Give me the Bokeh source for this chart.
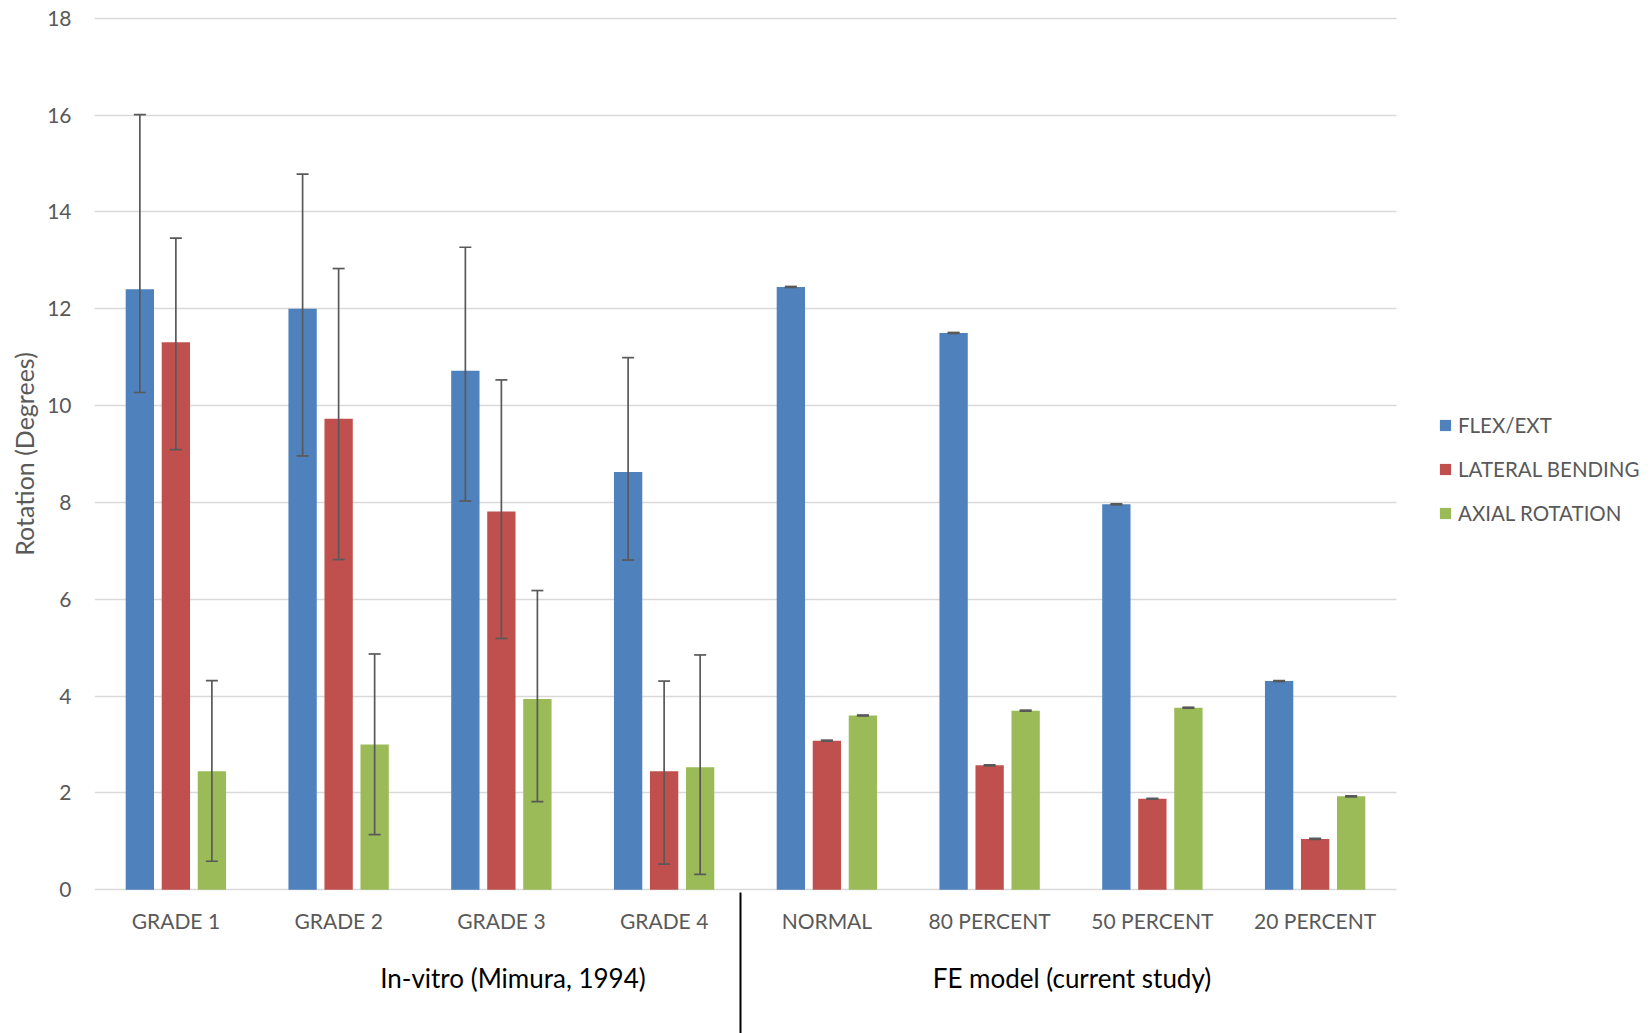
from bokeh.plotting import figure
from bokeh.models import (ColumnDataSource, FixedTicker, LinearAxis, Grid, Legend,
                          LegendItem, Whisker, TeeHead, Range1d)
from bokeh.embed import file_html
from bokeh.resources import INLINE

# ---- data -------------------------------------------------------------
categories = ["GRADE 1", "GRADE 2", "GRADE 3", "GRADE 4",
              "NORMAL", "80 PERCENT", "50 PERCENT", "20 PERCENT"]
groups = ["In-vitro (Mimura, 1994)", "FE model (current study)"]
group_label_pos = [2.071, 5.506]
group_split = 3.47

series = ["FLEX/EXT", "LATERAL BENDING", "AXIAL ROTATION"]

flex_ext = [12.40, 12.00, 10.72, 8.63, 12.45, 11.50, 7.96, 4.31]
flex_ext_low = [10.27, 8.96, 8.03, 6.81, 12.44, 11.49, 7.95, 4.30]
flex_ext_high = [16.01, 14.78, 13.27, 10.99, 12.46, 11.51, 7.97, 4.32]

lateral = [11.31, 9.73, 7.81, 2.45, 3.08, 2.57, 1.88, 1.05]
lateral_low = [9.09, 6.82, 5.19, 0.53, 3.07, 2.56, 1.87, 1.04]
lateral_high = [13.46, 12.83, 10.53, 4.31, 3.09, 2.58, 1.89, 1.06]

axial = [2.45, 3.00, 3.94, 2.53, 3.60, 3.70, 3.76, 1.93]
axial_low = [0.59, 1.14, 1.82, 0.32, 3.59, 3.69, 3.75, 1.92]
axial_high = [4.32, 4.87, 6.18, 4.85, 3.61, 3.71, 3.77, 1.94]

y_ticks = [0, 2, 4, 6, 8, 10, 12, 14, 16, 18]

# ---- style ------------------------------------------------------------
FONT = "Lato"
GREY_TEXT = "#595959"
colors = ["#4F81BD", "#C0504D", "#9BBB59"]
bar_width = 0.174
bar_pitch = 0.2213
split_len = 134  # length of the group divider below the baseline, px

# the frame runs to the right edge so the legend can sit inside it;
# grid lines are limited to the category span with cross_bounds
x_start, x_end = -0.5, 7.5
p = figure(width=1652, height=1033, output_backend="svg", toolbar_location=None,
           x_range=Range1d(x_start, x_end + 256 / 162.75),
           y_range=Range1d(-0.2003, 18.2003),
           x_axis_location=None, y_axis_location=None,
           min_border_left=94, min_border_right=0,
           min_border_top=8, min_border_bottom=134)
p.outline_line_color = None
p.background_fill_color = "white"
p.border_fill_color = "white"
for g in p.grid:
    g.visible = False

# y axis + horizontal grid
yaxis = LinearAxis(ticker=FixedTicker(ticks=y_ticks), axis_label="Rotation (Degrees)")
yaxis.axis_line_color = None
yaxis.major_tick_line_color = None
yaxis.minor_tick_line_color = None
yaxis.major_label_text_font = FONT
yaxis.major_label_text_font_size = "21px"
yaxis.major_label_text_color = GREY_TEXT
yaxis.major_label_standoff = 17
yaxis.axis_label_text_font = FONT
yaxis.axis_label_text_font_size = "25px"
yaxis.axis_label_text_font_style = "normal"
yaxis.axis_label_text_color = GREY_TEXT
yaxis.axis_label_standoff = 5
p.add_layout(yaxis, "left")

p.add_layout(Grid(dimension=1, ticker=yaxis.ticker, cross_bounds=(x_start, x_end),
                  grid_line_color="#d9d9d9", grid_line_width=1.4))

# category axis; its minor tick marks the split between the two groups
xpos = list(range(len(categories)))
cat_axis = LinearAxis(ticker=FixedTicker(ticks=xpos, minor_ticks=[group_split]),
                      major_label_overrides={i: c for i, c in zip(xpos, categories)})
cat_axis.axis_line_color = None
cat_axis.major_tick_line_color = None
cat_axis.minor_tick_line_color = "black"
cat_axis.minor_tick_line_width = 2
cat_axis.minor_tick_in = 7
cat_axis.minor_tick_out = split_len
cat_axis.major_label_text_font = FONT
cat_axis.major_label_text_font_size = "21px"
cat_axis.major_label_text_color = GREY_TEXT
cat_axis.major_label_standoff = 8 - split_len
p.add_layout(cat_axis, "below")

# group axis
grp_axis = LinearAxis(ticker=FixedTicker(ticks=group_label_pos),
                      major_label_overrides={v: g for v, g in zip(group_label_pos, groups)})
grp_axis.axis_line_color = None
grp_axis.major_tick_line_color = None
grp_axis.minor_tick_line_color = None
grp_axis.major_label_text_font = FONT
grp_axis.major_label_text_font_size = "26px"
grp_axis.major_label_text_color = "black"
grp_axis.major_label_standoff = 20
p.add_layout(grp_axis, "below")

# bars + error bars
values = [flex_ext, lateral, axial]
lows = [flex_ext_low, lateral_low, axial_low]
highs = [flex_ext_high, lateral_high, axial_high]
items = []
for k, (name, col) in enumerate(zip(series, colors)):
    offset = (k - 1) * bar_pitch
    src = ColumnDataSource(dict(x=[x + offset for x in xpos], top=values[k],
                                lo=lows[k], hi=highs[k]))
    r = p.vbar(x="x", top="top", bottom=0, width=bar_width, source=src,
               fill_color=col, line_color=None)
    items.append(LegendItem(label=name, renderers=[r]))
    p.add_layout(Whisker(source=src, base="x", lower="lo", upper="hi",
                         line_color="#595959", line_width=1.7, level="overlay",
                         upper_head=TeeHead(size=12, line_color="#595959", line_width=1.7),
                         lower_head=TeeHead(size=12, line_color="#595959", line_width=1.7)))

legend = Legend(items=items, location=(1344, 374))
legend.label_text_font = FONT
legend.label_text_font_size = "20.5px"
legend.label_text_color = GREY_TEXT
legend.glyph_width = 14
legend.glyph_height = 14
legend.label_standoff = 6
legend.spacing = 20
legend.padding = 0
legend.margin = 0
legend.border_line_color = None
legend.background_fill_alpha = 0
p.add_layout(legend, "center")

open("out.html", "w").write(file_html(p, INLINE))
